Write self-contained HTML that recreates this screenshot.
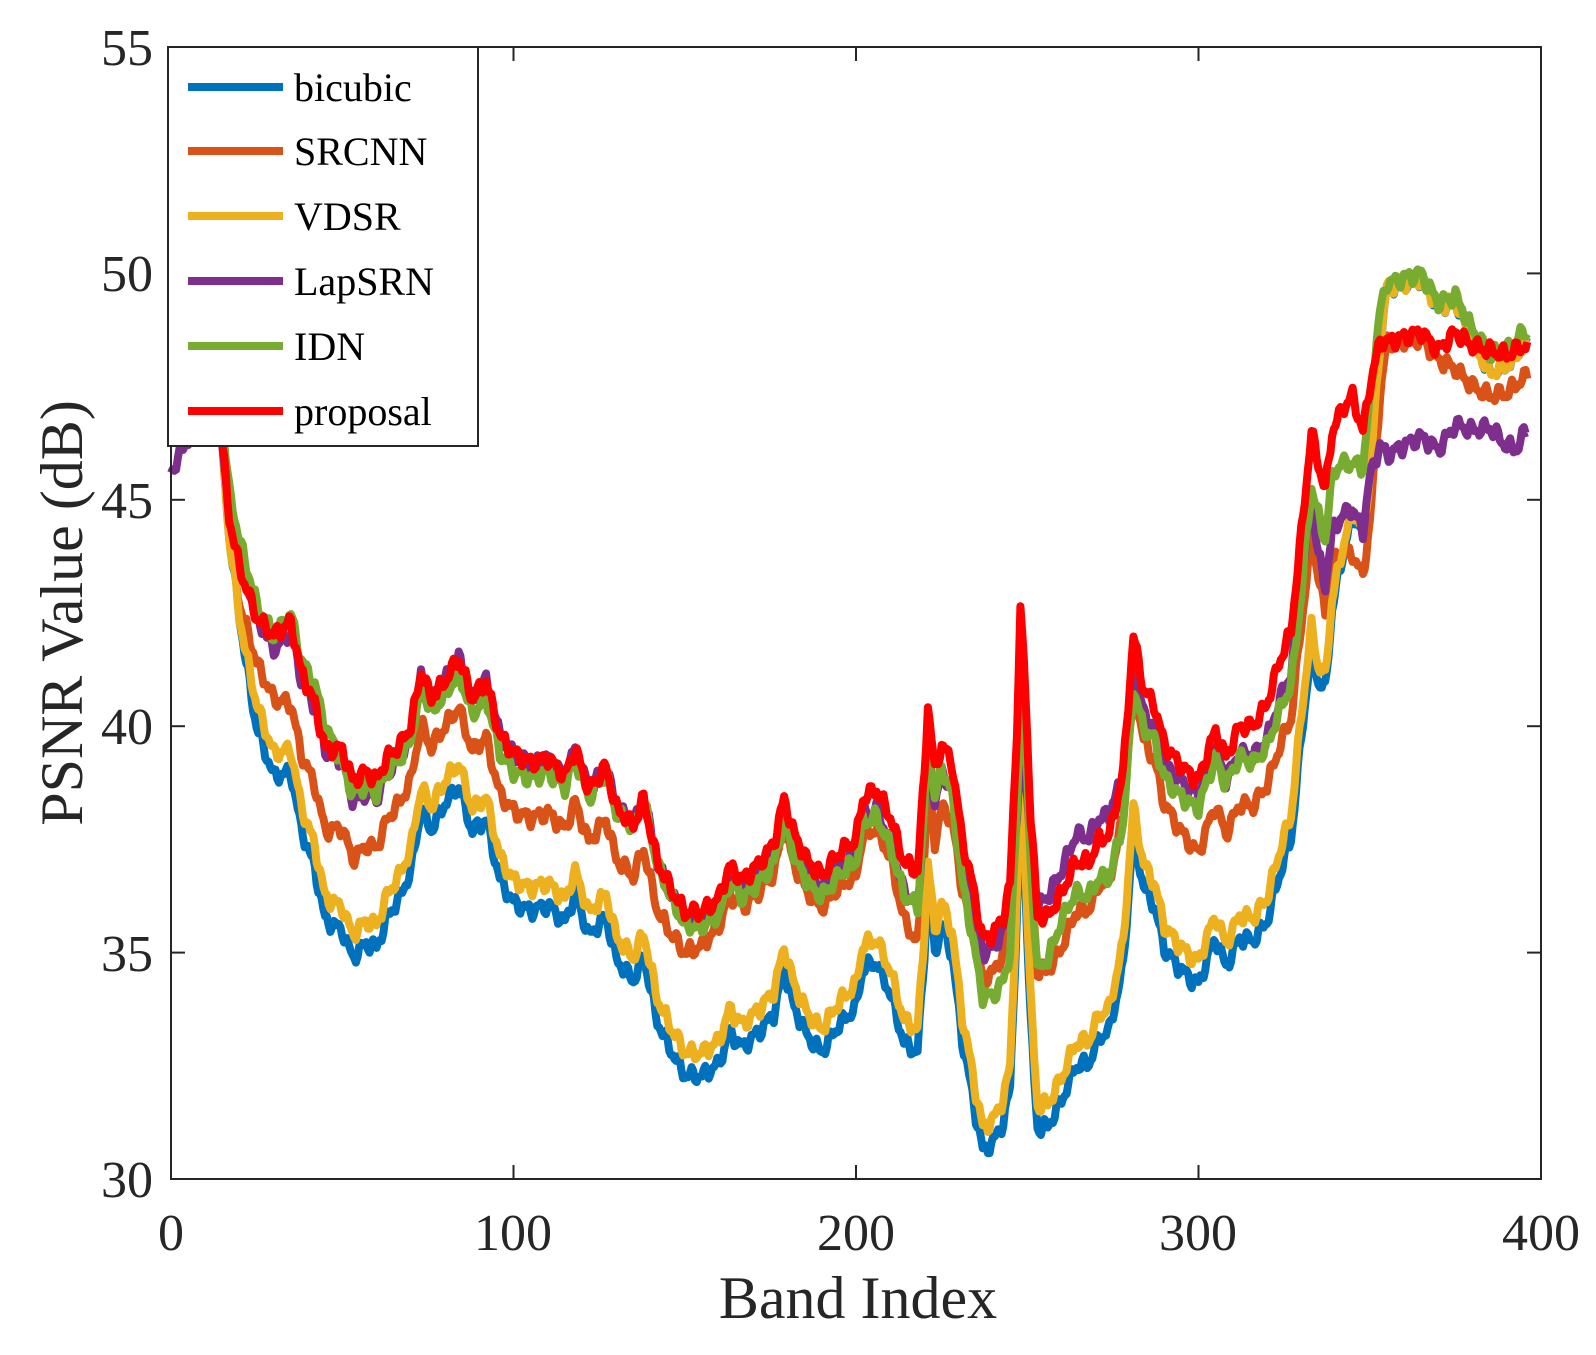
<!DOCTYPE html>
<html><head><meta charset="utf-8"><style>
body{margin:0;background:#fff;width:1596px;height:1355px;overflow:hidden}
svg{display:block}
text{font-family:"Liberation Serif",serif;fill:#262626}
</style></head><body>
<svg id="s" width="1596" height="1355" viewBox="0 0 1596 1355" xmlns="http://www.w3.org/2000/svg">
<rect width="1596" height="1355" fill="#fff"/>
<g id="lines"></g>
<rect x="171" y="47" width="1370" height="1132" fill="none" stroke="#262626" stroke-width="2"/>
<g id="ticks" stroke="#262626" stroke-width="2"></g>
<g font-size="52" text-anchor="end">
<text x="153" y="1197">30</text><text x="153" y="971">35</text><text x="153" y="744">40</text>
<text x="153" y="518">45</text><text x="153" y="291">50</text><text x="153" y="65">55</text>
</g>
<g font-size="52" text-anchor="middle">
<text x="171" y="1250">0</text><text x="513" y="1250">100</text><text x="856" y="1250">200</text>
<text x="1198" y="1250">300</text><text x="1541" y="1250">400</text>
</g>
<text x="858" y="1318" font-size="60" text-anchor="middle">Band Index</text>
<text transform="translate(82,613) rotate(-90)" font-size="60" text-anchor="middle">PSNR Value (dB)</text>
<rect x="168" y="47" width="310" height="399" fill="#fff" stroke="#262626" stroke-width="2"/>
<g stroke-width="8">
<line x1="188" y1="87" x2="283" y2="87" stroke="#0072bd"/>
<line x1="188" y1="151" x2="283" y2="151" stroke="#d95319"/>
<line x1="188" y1="216" x2="283" y2="216" stroke="#edb120"/>
<line x1="188" y1="281" x2="283" y2="281" stroke="#7e2f8e"/>
<line x1="188" y1="346" x2="283" y2="346" stroke="#77ac30"/>
<line x1="188" y1="411" x2="283" y2="411" stroke="#ff0000"/>
</g>
<g font-size="40">
<text x="294" y="101" style="fill:#000">bicubic</text>
<text x="294" y="165" style="fill:#000">SRCNN</text>
<text x="294" y="230" style="fill:#000">VDSR</text>
<text x="294" y="295" style="fill:#000">LapSRN</text>
<text x="294" y="360" style="fill:#000">IDN</text>
<text x="294" y="425" style="fill:#000">proposal</text>
</g>
</svg>
<script>
var NS="http://www.w3.org/2000/svg";
function X(b){return 171+b*3.425}
function Y(v){return 47+(55-v)*45.28}
var tk=document.getElementById('ticks'),h='';
for(var v=30;v<=55;v+=5){var y=Y(v);h+='<line x1="171" y1="'+y+'" x2="185" y2="'+y+'"/><line x1="1527" y1="'+y+'" x2="1541" y2="'+y+'"/>';}
for(var b=0;b<=400;b+=100){var x=X(b);h+='<line x1="'+x+'" y1="1179" x2="'+x+'" y2="1165"/><line x1="'+x+'" y1="47" x2="'+x+'" y2="61"/>';}
tk.innerHTML=h;
var red=[[0,49],[10,48.5],[14,47],[17,44.6],[20,43.5],[25,42.4],[30,42],[35,42.3],[38,41.2],[42,40.5],[45,39.5],[50,39.5],[53,38.8],[57,39],[60,38.8],[63,39.3],[67,39.6],[70,40],[73,41.2],[76,40.6],[80,41],[84,41.5],[88,40.6],[92,41],[96,39.8],[100,39.4],[105,39.2],[110,39.3],[115,38.9],[118,39.5],[122,38.6],[127,39.1],[130,38.2],[135,37.8],[138,38.4],[142,37],[146,36.4],[150,35.9],[155,35.9],[160,36.2],[163,36.9],[167,36.6],[172,37],[176,37.4],[179,38.4],[182,37.6],[186,37],[190,36.7],[195,37.2],[200,37.5],[202,38.4],[206,38.6],[210,38],[214,37],[218,36.8],[220,39],[221,40.5],[223,39],[225,39.6],[228,39.2],[231,37.5],[234,36.5],[237,35.3],[240,35.4],[243,35.8],[245,36.5],[247,40],[248,42.5],[249,41.5],[251,38],[253,35.8],[256,35.8],[260,36.3],[264,37],[268,37],[271,37.5],[274,37.6],[278,39],[281,42],[284,40.8],[287,40.5],[290,39.6],[294,39.2],[298,38.9],[300,38.8],[303,39.5],[305,39.9],[308,39.3],[312,40],[316,40],[320,40.5],[324,41.5],[327,42.1],[329,43.5],[331,45],[333,46.5],[335,45.8],[337,45.2],[339,46.5],[342,47],[345,47.3],[348,46.5],[350,47.5],[353,48.5],[356,48.5],[360,48.6],[365,48.7],[370,48.3],[375,48.7],[380,48.4],[385,48.3],[390,48.2],[395,48.4]];
var dG=[[0,0.5],[20,0.6],[30,0],[45,0.5],[50,-0.3],[80,-0.3],[100,-0.4],[140,0],[150,-0.3],[170,-0.4],[200,-0.5],[220,-0.8],[225,-0.5],[235,-1.2],[245,-1.5],[248,-2],[250,-1],[253,-1.2],[260,-0.6],[270,-0.8],[280,-1.2],[285,-0.8],[300,-0.6],[310,-0.6],[330,-1.3],[340,-1],[345,-1.5],[350,-0.3],[355,1.3],[365,1.3],[375,0.8],[385,-0.1],[395,0.3]];
var dP=[[0,-3.4],[8,-1.8],[14,0],[20,0.3],[30,-0.3],[45,0],[55,-0.5],[80,0],[140,0],[150,-0.2],[200,-0.3],[220,-0.8],[235,-0.3],[245,-0.3],[248,-3],[252,0],[255,0.4],[265,0.6],[275,0.4],[280,-0.6],[300,-0.3],[330,-1],[335,-2],[345,-2.5],[350,-2],[355,-2.5],[370,-2.2],[385,-1.7],[393,-2.2],[396,-1.8]];
var dO=[[0,-0.5],[15,0],[20,-0.8],[25,-1],[35,-1.8],[45,-1.8],[55,-1.7],[65,-1.3],[80,-1],[95,-1.3],[110,-1.2],[140,-1.1],[150,-0.9],[160,-0.6],[170,-0.6],[190,-0.7],[210,-0.9],[220,-1.8],[225,-1.4],[235,-0.9],[245,-0.8],[248,-3],[252,-1.2],[260,-1.2],[270,-1],[280,-1],[290,-1.3],[300,-1.6],[320,-1.8],[330,-2],[335,-2.5],[345,-3.5],[350,-3],[355,0],[370,-0.2],[375,-0.8],[385,-1],[395,-0.7]];
var dY=[[0,0],[15,0],[22,-1.5],[30,-2.6],[50,-3.5],[60,-3.2],[80,-2.2],[100,-2.8],[120,-2.7],[140,-3],[150,-3.1],[170,-3.2],[190,-3.4],[200,-3.2],[215,-3.5],[225,-3.5],[235,-4.2],[245,-4],[248,-3.5],[252,-4.2],[265,-4],[275,-3.8],[281,-3.8],[290,-4],[300,-4],[320,-4.3],[330,-4],[335,-4.5],[345,-2.5],[350,-2],[355,1.2],[365,1.2],[375,0.7],[385,-0.5],[395,0]];
var dB=[[0,0],[20,0],[25,-0.5],[330,-0.5],[340,-0.2],[350,0],[395,0]];
function itp(a,b){if(b<=a[0][0])return a[0][1];for(var i=1;i<a.length;i++){if(b<=a[i][0]){var t=(b-a[i-1][0])/(a[i][0]-a[i-1][0]);return a[i-1][1]+t*(a[i][1]-a[i-1][1]);}}return a[a.length-1][1];}
function series(fn,col){var p=[];for(var b=0;b<=396;b+=0.5){p.push(X(b).toFixed(1)+','+Y(fn(b)).toFixed(1));}
var e=document.createElementNS(NS,'polyline');e.setAttribute('points',p.join(' '));e.setAttribute('fill','none');e.setAttribute('stroke',col);e.setAttribute('stroke-width','8');e.setAttribute('stroke-linejoin','round');document.getElementById('lines').appendChild(e);}
function nz(b,k){return 0.12*Math.sin(b*1.7+k)+0.08*Math.sin(b*3.3+2*k);}
var R=function(b){return itp(red,b)};
series(function(b){return R(b)+itp(dY,b)+itp(dB,b)+nz(b,1)},'#0072bd');
series(function(b){return R(b)+itp(dO,b)+nz(b,2)},'#d95319');
series(function(b){return R(b)+itp(dY,b)+nz(b,1.2)},'#edb120');
series(function(b){return R(b)+itp(dP,b)+nz(b,3)},'#7e2f8e');
series(function(b){return R(b)+itp(dG,b)+nz(b,4)},'#77ac30');
series(function(b){return R(b)+nz(b,0)},'#ff0000');
</script>
</body></html>
